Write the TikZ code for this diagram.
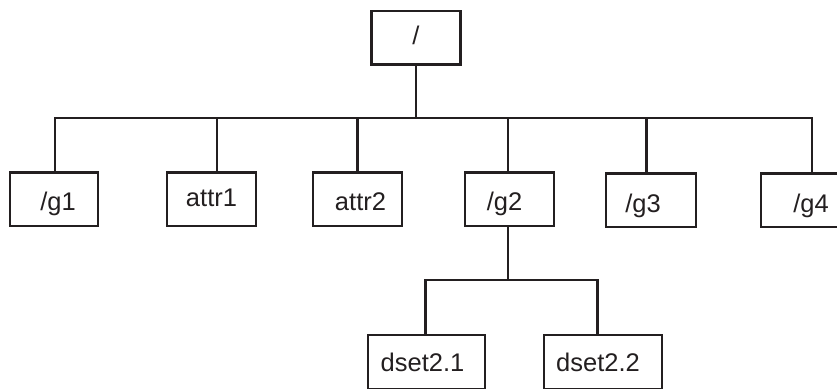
\documentclass[tikz,border=0pt]{standalone}
\usepackage{fontspec}
\setmainfont{Liberation Sans}
\definecolor{ink}{HTML}{231F20}
\begin{document}
\begin{tikzpicture}[x=1pt,y=-1pt,
  line width=2.7pt, draw=ink,
  box/.style={draw=ink, line width=2.7pt, rectangle, inner sep=0pt,
    minimum height=53.5pt, text height=22.6pt, text depth=0pt,
    font=\fontsize{25.5}{30}\selectfont, text=ink},
  link/.style={draw=ink, line width=2.7pt}]
\useasboundingbox (0,0) rectangle (837,388);
\clip (0,0) rectangle (837,388);
% nodes
\node[box, minimum width=89.5pt, minimum height=53.3pt, text height=14.4pt] (root) at (416,37.7) {/};
\node[box, minimum width=88pt] (g1) at (54,199.2) {\kern8pt/g1};
\node[box, minimum width=89pt, text height=15pt] (attr1) at (211.5,199.2) {attr1};
\node[box, minimum width=89pt] (attr2) at (357.5,199.2) {\kern6pt attr2};
\node[box, minimum width=89pt] (g2) at (509.5,199.2) {/g2\kern10pt};
\node[box, minimum width=90pt, text height=24.8pt] (g3) at (651,200.3) {/g3\kern16pt};
\node[box, minimum width=100pt, text height=24.8pt] (g4) at (811,200.3) {/g4};
\node[box, minimum width=117pt, minimum height=54pt, text height=18pt] (d21) at (426.5,362) {dset2.1\kern8pt};
\node[box, minimum width=118pt, minimum height=54pt, text height=18pt] (d22) at (603,362) {dset2.2\kern10pt};
% junction coordinates
\coordinate (rj) at (416,118);
\coordinate (j1) at (55,118);
\coordinate (j2) at (217,118);
\coordinate (j3) at (357.3,118);
\coordinate (j4) at (508,118);
\coordinate (j5) at (646.7,118);
\coordinate (j6) at (812,118);
\coordinate (k) at (508,280);
\coordinate (k1) at (425.7,280);
\coordinate (k2) at (597.5,280);
% connectors
\draw[link] (root.south) -- (rj);
\draw[link] (g1.north -| j1) -- (j1) -- (j6) -- (g4.north -| j6);
\draw[link] (j2) -- (attr1.north -| j2);
\draw[link] (j3) -- (attr2.north -| j3);
\draw[link] (j4) -- (g2.north -| j4);
\draw[link] (j5) -- (g3.north -| j5);
\draw[link] (g2.south -| k) -- (k);
\draw[link] (d21.north -| k1) -- (k1) -- (k2) -- (d22.north -| k2);
\end{tikzpicture}
\end{document}
